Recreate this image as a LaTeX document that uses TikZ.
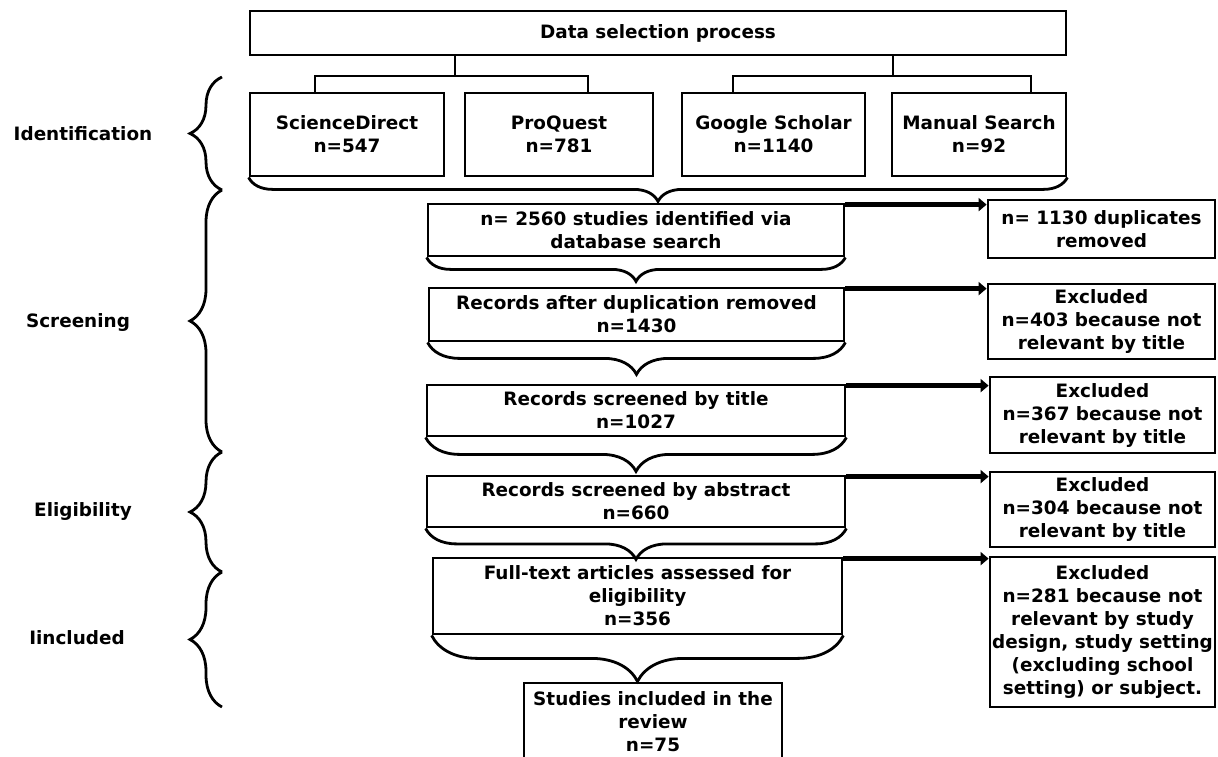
\documentclass[tikz,border=0pt]{standalone}
\usepackage{fontspec}
\setmainfont{DejaVu Sans}
\usepackage{tikz}
\usetikzlibrary{arrows.meta,decorations.pathreplacing}

\tikzset{
	caixa/.style={draw,line width=2.8pt,align=center,inner sep=0pt,
		font=\bfseries\fontsize{18.4pt}{23pt}\selectfont},
	rotulo/.style={inner sep=0pt,font=\bfseries\fontsize{18.4pt}{23pt}\selectfont},
	linha/.style={line width=2.8pt},
	chave/.style={line width=2.8pt,decorate},
	seta/.style={line width=5.5pt,-{Triangle[length=8pt,width=13pt]}}
}

\begin{document}
\begin{tikzpicture}[x=1pt,y=-1pt]
		\useasboundingbox (0,0) rectangle (1218,757);
		
%		caixa do topo
		\node[caixa,minimum width=816pt,minimum height=44pt] (sel) at (658,33) {Data selection process};
		
%		bases de dados
		\node[caixa,minimum width=194pt,minimum height=83pt] (sd) at (347,134.5) {ScienceDirect\\n=547};
		\node[caixa,minimum width=188pt,minimum height=83pt] (pq) at (559,134.5) {ProQuest\\n=781};
		\node[caixa,minimum width=183pt,minimum height=83pt] (gs) at (773.5,134.5) {Google Scholar\\n=1140};
		\node[caixa,minimum width=174pt,minimum height=83pt] (ms) at (979,134.5) {Manual Search\\n=92};
		
%		ligacoes do topo
		\coordinate (jl) at (455,76);
		\coordinate (jr) at (893,76);
		\draw[linha] (sel.south -| jl) -- (jl);
		\draw[linha] ([xshift=-32pt]sd.north) |- (jl) -| ([xshift=29pt]pq.north);
		\draw[linha] (sel.south -| jr) -- (jr);
		\draw[linha] ([xshift=-40.5pt]gs.north) |- (jr) -| ([xshift=52pt]ms.north);
		\draw[chave,decoration={brace,mirror,amplitude=24pt}] (sd.south west) -- (ms.south east);
		
%		fluxo central
		\node[caixa,minimum width=416pt,minimum height=52pt] (f1) at (636,230) {n= 2560 studies identified via\\database search};
		\node[caixa,minimum width=415pt,minimum height=53pt] (f2) at (636.5,314.5) {Records after duplication removed\\n=1430};
		\node[caixa,minimum width=418pt,minimum height=51pt] (f3) at (636,410.5) {Records screened by title\\n=1027};
		\node[caixa,minimum width=418pt,minimum height=51pt] (f4) at (636,501.5) {Records screened by abstract\\n=660};
		\node[caixa,minimum width=409pt,minimum height=76pt] (f5) at (637.5,596) {Full-text articles assessed for\\eligibility\\n=356};
		\node[caixa,minimum width=258pt,minimum height=78pt] (f6) at (653,722) {Studies included in the\\review\\n=75};
		
		\draw[chave,decoration={brace,mirror,amplitude=24pt}] (f1.south west) -- (f1.south east);
		\draw[chave,decoration={brace,mirror,amplitude=32pt}] (f2.south west) -- (f2.south east);
		\draw[chave,decoration={brace,mirror,amplitude=34pt}] (f3.south west) -- (f3.south east);
		\draw[chave,decoration={brace,mirror,amplitude=31pt}] (f4.south west) -- (f4.south east);
		\draw[chave,decoration={brace,mirror,amplitude=46pt}] (f5.south west) -- (f5.south east);
		
%		excluidos
		\node[caixa,minimum width=227pt,minimum height=58pt] (x1) at (1101.5,229) {n= 1130 duplicates\\removed};
		\node[caixa,minimum width=227pt,minimum height=75pt] (x2) at (1101.5,321.5) {Excluded\\n=403 because not\\relevant by title};
		\node[caixa,minimum width=225pt,minimum height=76pt] (x3) at (1102.5,415) {Excluded\\n=367 because not\\relevant by title};
		\node[caixa,minimum width=225pt,minimum height=75pt] (x4) at (1102.5,509.5) {Excluded\\n=304 because not\\relevant by title};
		\node[caixa,minimum width=225pt,minimum height=150pt] (x5) at (1102.5,632) {Excluded\\n=281 because not\\relevant by study\\design, study setting\\(excluding school\\setting) or subject.};
		
		\draw[seta] ([yshift=-2pt]f1.north east) -- ([yshift=-2pt]f1.north east -| x1.west);
		\draw[seta] ([yshift=-2pt]f2.north east) -- ([yshift=-2pt]f2.north east -| x2.west);
		\draw[seta] ([yshift=-2pt]f3.north east) -- ([yshift=-2pt]f3.north east -| x3.west);
		\draw[seta] ([yshift=-2pt]f4.north east) -- ([yshift=-2pt]f4.north east -| x4.west);
		\draw[seta] ([yshift=-2pt]f5.north east) -- ([yshift=-2pt]f5.north east -| x5.west);
		
%		etapas
		\draw[chave,decoration={brace,amplitude=32pt}] (222,190) -- (222,77);
		\draw[chave,decoration={brace,amplitude=32pt}] (222,452) -- (222,190);
		\draw[chave,decoration={brace,amplitude=32pt}] (222,572) -- (222,452);
		\draw[chave,decoration={brace,amplitude=32pt}] (222,707) -- (222,572);
		
		\node[rotulo] (l1) at (83,134) {Identification};
		\node[rotulo] (l2) at (78,322) {Screening};
		\node[rotulo] (l3) at (83,511) {Eligibility};
		\node[rotulo] (l4) at (77,638) {Iincluded};
\end{tikzpicture}
\end{document}
